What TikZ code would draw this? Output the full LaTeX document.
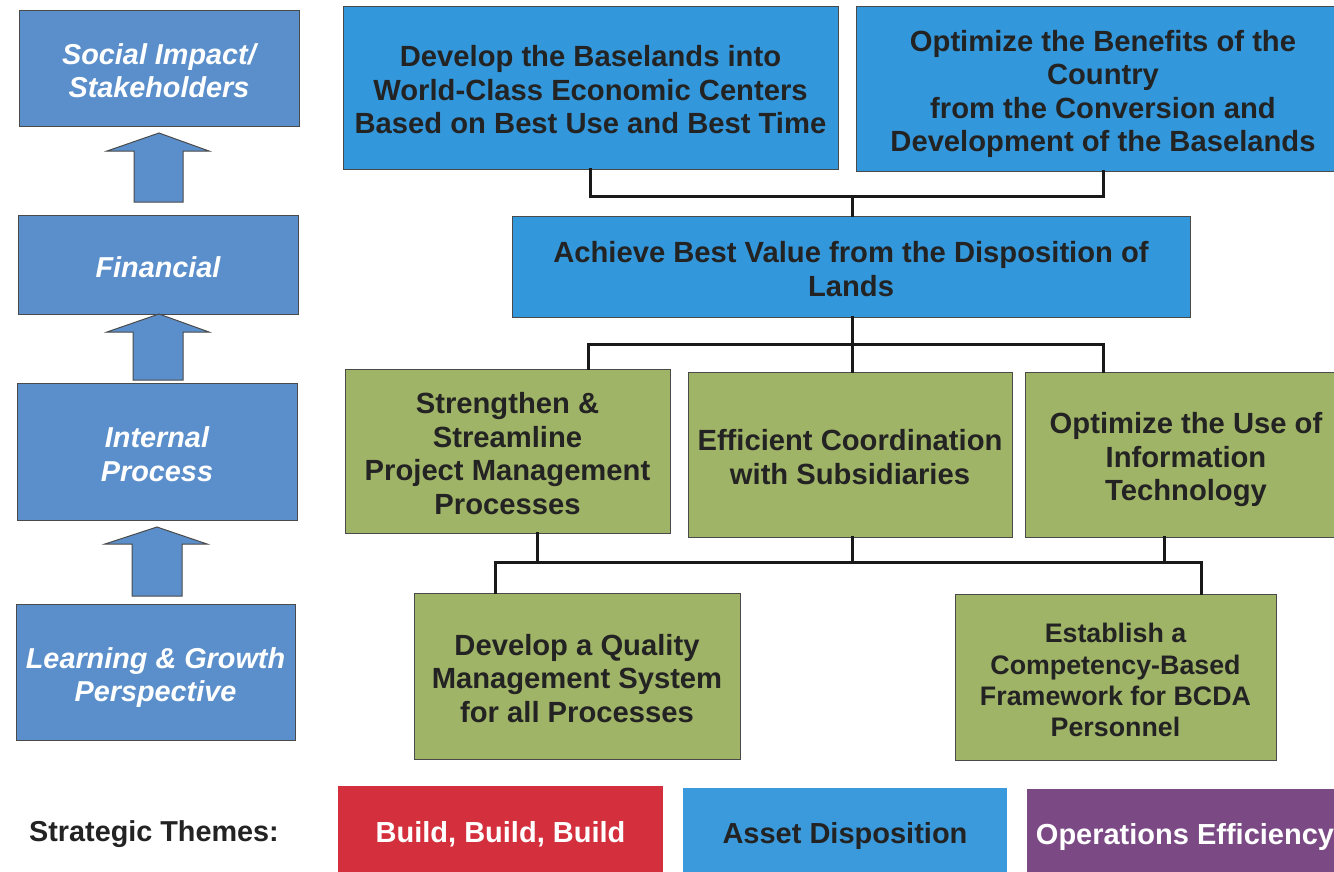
\documentclass[tikz,border=0pt]{standalone}
\usepackage{fontspec}
\setmainfont{Liberation Sans}
\definecolor{leftblue}{HTML}{5B8FCB}
\definecolor{topblue}{HTML}{3397DB}
\definecolor{goalgreen}{HTML}{A0B467}
\definecolor{themered}{HTML}{D42F3C}
\definecolor{themeblue}{HTML}{3A9ADB}
\definecolor{themepurple}{HTML}{7B4A85}
\definecolor{darktext}{HTML}{232323}
\definecolor{edgegray}{HTML}{4A4A4A}
\newcommand\mytopstrut{\rule{0pt}{32pt}}
\newcommand\mybotstrut{\rule[-6.5pt]{0pt}{6.5pt}}
\tikzset{
  basebox/.style={rectangle, draw=edgegray, line width=1pt, inner sep=0pt, align=center,
    font=\fontsize{29.2}{33.5}\selectfont\bfseries},
  persp/.style={basebox, fill=leftblue, text=white, font=\fontsize{28.8}{33.5}\selectfont\bfseries\itshape},
  objblue/.style={basebox, fill=topblue, text=darktext},
  objgreen/.style={basebox, fill=goalgreen, text=darktext},
  themebox/.style={basebox, draw=none, font=\fontsize{29}{33.5}\selectfont\bfseries},
  conn/.style={draw=black!90, line width=3pt, line cap=rect},
  blockarrow/.style={fill=leftblue, draw=edgegray, line width=1pt, line join=miter}
}
\begin{document}
\begin{tikzpicture}[x=1pt,y=-1pt]
\useasboundingbox (0,0) rectangle (1334,871);
\fill[white] (0,0) rectangle (1334,871);
\clip (0,0) rectangle (1334,871);

% perspectives
\node[persp, minimum width=280, minimum height=116] (P1) at (159,68) {\mytopstrut Social Impact/\\Stakeholders\mybotstrut};
\node[persp, minimum width=280, minimum height=99] (P2) at (158,264.5) {\mytopstrut Financial\mybotstrut};
\node[persp, minimum width=280, minimum height=137] (P3) at (157,451.5) {\mytopstrut Internal\\Process\mybotstrut};
\node[persp, minimum width=279, minimum height=136] (P4) at (155.5,672) {\mytopstrut Learning \& Growth\\Perspective\mybotstrut};

% block arrows
\draw[blockarrow] (134,202) -- (134,151) -- (107,151) -- (159,133) -- (209,151) -- (183,151) -- (183,202) -- cycle;
\draw[blockarrow] (133,380) -- (133,332) -- (107,332) -- (159,314) -- (209,332) -- (183,332) -- (183,380) -- cycle;
\draw[blockarrow] (132,596) -- (132,544) -- (105,544) -- (157,527) -- (207,544) -- (182,544) -- (182,596) -- cycle;

% objectives
\node[objblue, minimum width=495, minimum height=163] (A) at (590.5,87.5) {\mytopstrut Develop the Baselands into\\World-Class Economic Centers\\Based on Best Use and Best Time\mybotstrut};
\node[objblue, minimum width=494, minimum height=165] (B) at (1103,88.5) {\mytopstrut Optimize the Benefits of the\\Country\\from the Conversion and\\Development of the Baselands\mybotstrut};
\node[objblue, minimum width=678, minimum height=101] (C) at (851,266.5) {\mytopstrut Achieve Best Value from the Disposition of\\Lands\mybotstrut};
\node[objgreen, minimum width=325, minimum height=164] (G1) at (507.5,451) {\mytopstrut Strengthen \&\\Streamline\\Project Management\\Processes\mybotstrut};
\node[objgreen, minimum width=324, minimum height=165] (G2) at (850,454.5) {\mytopstrut Efficient Coordination\\with Subsidiaries\mybotstrut};
\node[objgreen, minimum width=322, minimum height=165] (G3) at (1186,454.5) {\mytopstrut Optimize the Use of\\Information\\Technology\mybotstrut};
\node[objgreen, minimum width=326, minimum height=166] (G4) at (577,676) {\mytopstrut Develop a Quality\\Management System\\for all Processes\mybotstrut};
\node[objgreen, minimum width=321, minimum height=166, font=\fontsize{26.8}{31.4}\selectfont\bfseries] (G5) at (1115.5,677) {\mytopstrut Establish a\\Competency-Based\\Framework for BCDA\\Personnel\mybotstrut};

% connectors
\coordinate (j1) at (852,196);
\draw[conn] (A.south) |- (j1) -| (B.south);
\draw[conn] (j1) -- (j1 |- C.north);

\coordinate (h2l) at (588,344);
\coordinate (h2r) at (1103,344);
\draw[conn] (G1.north -| h2l) -- (h2l) -- (h2r) -- (G3.north -| h2r);
\draw[conn] (C.south -| j1) -- (j1 |- G2.north);

\coordinate (h3l) at (495,562);
\coordinate (h3r) at (1201,562);
\coordinate (d1) at (537,562);
\coordinate (d2) at (852,562);
\coordinate (d3) at (1164,562);
\draw[conn] (G4.north -| h3l) -- (h3l) -- (h3r) -- (G5.north -| h3r);
\draw[conn] (G1.south -| d1) -- (d1);
\draw[conn] (G2.south -| d2) -- (d2);
\draw[conn] (G3.south -| d3) -- (d3);

% strategic themes
\node[text=darktext, font=\fontsize{28.8}{33.5}\selectfont\bfseries, inner sep=0pt] (ST) at (154,834) {Strategic Themes:};
\node[themebox, fill=themered, text=white, minimum width=325, minimum height=96] (T1) at (500.5,834) {Build, Build, Build};
\node[themebox, fill=themeblue, text=darktext, minimum width=324, minimum height=96] (T2) at (845,836) {Asset Disposition};
\node[themebox, fill=themepurple, text=white, minimum width=316, minimum height=96] (T3) at (1185,837) {Operations Efficiency};
\end{tikzpicture}
\end{document}
